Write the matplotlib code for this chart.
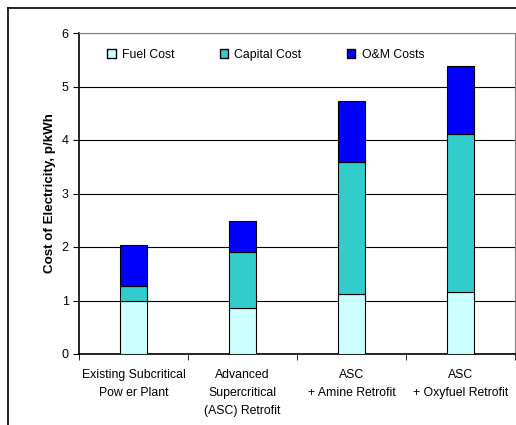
import matplotlib.pyplot as plt
import numpy as np
from matplotlib.lines import Line2D
from matplotlib.patches import Patch

plt.rcParams['font.family'] = ['Liberation Sans', 'DejaVu Sans']

categories = ['Existing Subcritical\nPow er Plant',
              'Advanced\nSupercritical\n(ASC) Retrofit',
              'ASC\n+ Amine Retrofit',
              'ASC\n+ Oxyfuel Retrofit']
fuel = [1.00, 0.86, 1.12, 1.15]
capital = [0.28, 1.04, 2.46, 2.97]
om = [0.76, 0.59, 1.14, 1.26]

fig = plt.figure(figsize=(5.16, 4.25), dpi=100)
ax = fig.add_axes([79 / 516, 1 - 354 / 425, 436 / 516, 321 / 425])

ind = np.arange(len(categories))
width = 0.25
fuel = np.array(fuel)
capital = np.array(capital)
om = np.array(om)
ax.bar(ind, fuel, width=width, color='#CCFFFF', edgecolor='black', linewidth=0.8, zorder=3)
ax.bar(ind, capital, width=width, bottom=fuel, color='#33CCCC', edgecolor='black', linewidth=0.8, zorder=3)
ax.bar(ind, om, width=width, bottom=fuel + capital, color='#0000FF', edgecolor='black', linewidth=0.8, zorder=3)

ax.set_xlim(-0.5, len(categories) - 0.5)
ax.set_ylim(0, 6)
ax.set_yticks(range(7))
ax.yaxis.grid(True, color='black', linewidth=0.8, zorder=0)
ax.set_xticks(ind)
ax.set_xticklabels(categories, fontsize=8.8, linespacing=1.65)
ax.set_xticks(np.arange(-0.5, len(categories)), minor=True)
ax.tick_params(axis='x', which='major', length=0, pad=11)
ax.tick_params(axis='x', which='minor', length=4, direction='out')
ax.tick_params(axis='y', length=4, labelsize=9)
ax.set_ylabel('Cost of Electricity, p/kWh', fontsize=9.6, fontweight='bold', labelpad=4)

for s in ['top', 'right']:
    ax.spines[s].set_color('#808080')
for s in ['left', 'bottom']:
    ax.spines[s].set_linewidth(1.2)

handles = [Patch(facecolor='#CCFFFF', edgecolor='black'),
           Patch(facecolor='#33CCCC', edgecolor='black'),
           Patch(facecolor='#0000FF', edgecolor='black')]
ax.legend(handles, ['Fuel Cost', 'Capital Cost', 'O&M Costs'], ncol=3, frameon=False,
          loc='upper left', bbox_to_anchor=(0.04, 0.985), fontsize=8.8,
          handlelength=0.7, handleheight=0.7, handletextpad=0.5, columnspacing=3.7)

# outer chart border
fig.add_artist(Line2D([8 / 516, 1.1], [1 - 8 / 425] * 2, color='black', linewidth=1.2))
fig.add_artist(Line2D([8 / 516] * 2, [-0.1, 1 - 8 / 425], color='black', linewidth=1.2))

plt.savefig('out.png', dpi=100)
